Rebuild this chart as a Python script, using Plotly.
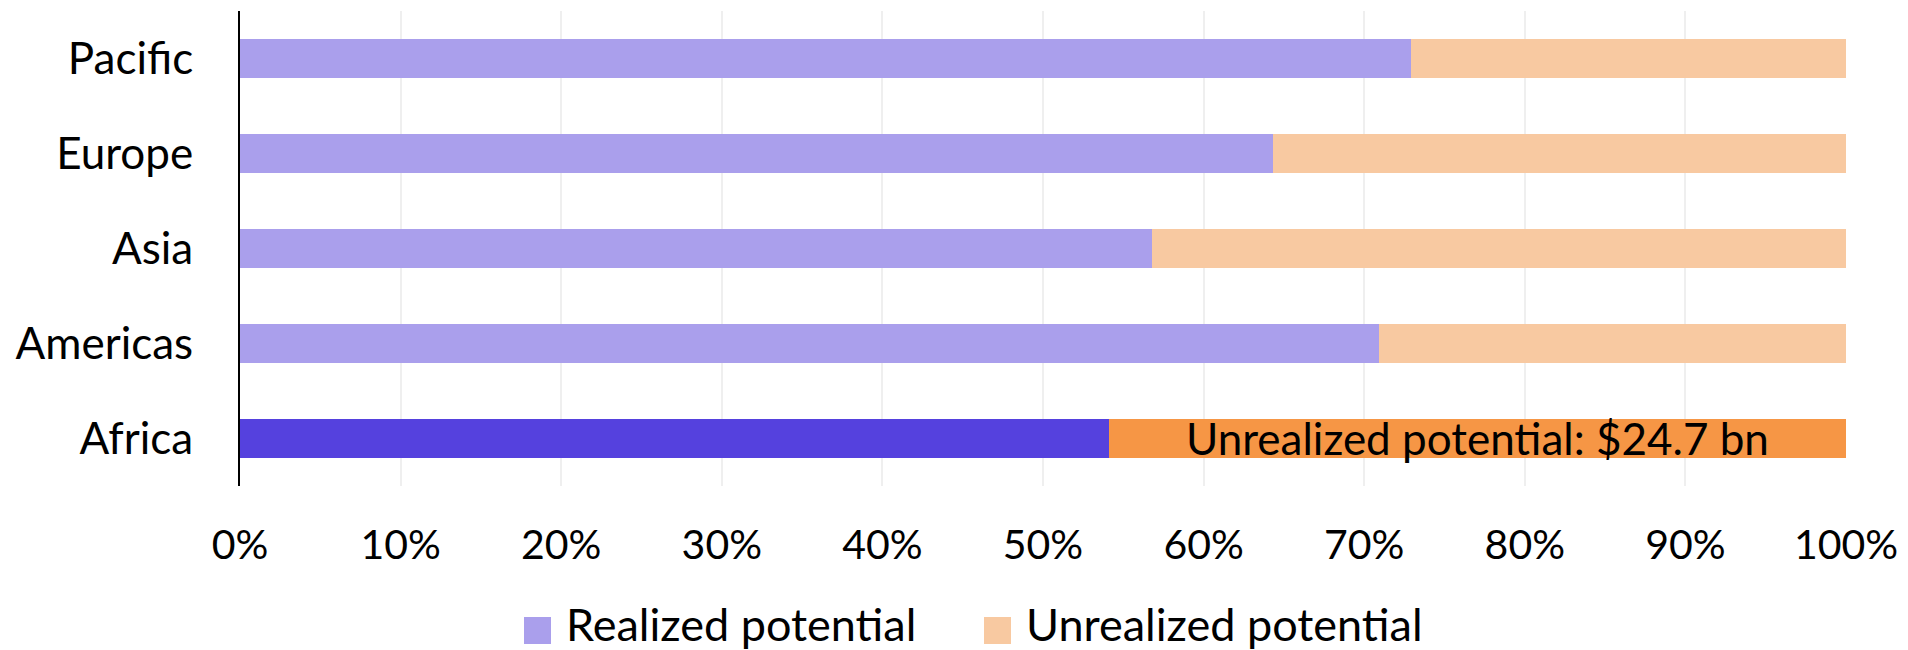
import plotly.graph_objects as go

# Regions, listed top to bottom of the chart
regions = ["Pacific", "Europe", "Asia", "Americas", "Africa"]
realized = [72.9, 64.3, 56.8, 70.9, 54.1]      # % of potential realized
unrealized = [27.1, 35.7, 43.2, 29.1, 45.9]    # % of potential not realized
highlight = "Africa"
highlight_label = "Unrealized potential: $24.7 bn"
x_ticks = [0, 10, 20, 30, 40, 50, 60, 70, 80, 90, 100]
x_tick_labels = [f"{t}%" for t in x_ticks]

REAL_LIGHT, REAL_DARK = "#aa9fec", "#5541de"
UNREAL_LIGHT, UNREAL_DARK = "#f8c9a1", "#f69645"
FONT = "Lato"

W, H = 1908, 650
ML, MR, MT, MB = 240, 62, 11, 164
PW, PH = W - ML - MR, H - MT - MB


def px_x(x):
    return (x - ML) / PW


def px_y(y):
    return (MT + PH - y) / PH


real_colors = [REAL_DARK if r == highlight else REAL_LIGHT for r in regions]
unreal_colors = [UNREAL_DARK if r == highlight else UNREAL_LIGHT for r in regions]

fig = go.Figure()
fig.add_trace(go.Bar(
    y=regions, x=realized, orientation="h", name="Realized potential",
    marker=dict(color=real_colors, line=dict(width=0)), showlegend=False,
    hoverinfo="y+x",
))
fig.add_trace(go.Bar(
    y=regions, x=unrealized, orientation="h", name="Unrealized potential",
    marker=dict(color=unreal_colors, line=dict(width=0)), showlegend=False,
    hoverinfo="y+x",
))

# label centred on the highlighted unrealized segment
i = regions.index(highlight)
fig.add_annotation(
    x=realized[i] + unrealized[i] / 2, y=highlight, xref="x", yref="y",
    text=highlight_label, showarrow=False, yshift=1,
    font=dict(family=FONT, size=44, color="#000000"),
)

# legend: large square swatches with labels underneath the axis
legend_items = [("Realized potential", REAL_LIGHT, 524), ("Unrealized potential", UNREAL_LIGHT, 984)]
for label, color, left in legend_items:
    fig.add_shape(
        type="rect", xref="paper", yref="paper",
        x0=px_x(left), x1=px_x(left + 27), y0=px_y(644), y1=px_y(617),
        fillcolor=color, line=dict(width=0),
    )
    fig.add_annotation(
        x=px_x(left + 40), y=px_y(624), xref="paper", yref="paper",
        text=label, showarrow=False, xanchor="left", yanchor="middle",
        font=dict(family=FONT, size=45, color="#000000"),
    )

fig.update_layout(
    width=W, height=H,
    margin=dict(l=ML, r=MR, t=MT, b=MB, pad=0),
    barmode="stack", bargap=0.595,
    plot_bgcolor="white", paper_bgcolor="white",
    font=dict(family=FONT, size=43, color="#000000"),
    showlegend=False,
)
fig.update_xaxes(
    range=[0, 100], tickvals=x_ticks, ticktext=x_tick_labels,
    showgrid=True, gridcolor="#efefef", gridwidth=1.5, zeroline=False,
    showline=False, ticks="", ticklabelstandoff=31,
    tickfont=dict(family=FONT, size=41, color="#000000"),
    fixedrange=True,
)
fig.update_yaxes(
    categoryorder="array", categoryarray=list(reversed(regions)),
    showline=True, linecolor="#000000", linewidth=2,
    showgrid=False, zeroline=False, ticks="", ticklabelstandoff=36,
    tickfont=dict(family=FONT, size=44, color="#000000"),
    fixedrange=True,
)

fig.write_html("out.html")
